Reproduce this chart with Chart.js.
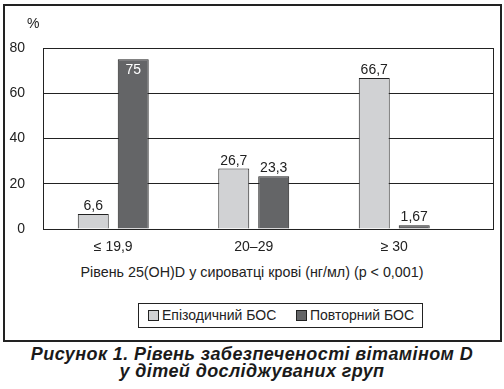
<!DOCTYPE html>
<html>
<head>
<meta charset="utf-8">
<script src="https://cdn.jsdelivr.net/npm/chart.js@4/dist/chart.umd.min.js"></script>
<style>
  html, body { margin: 0; padding: 0; background: #fff; }
  body { width: 504px; height: 389px; position: relative; overflow: hidden;
         font-family: "Liberation Sans", Arial, sans-serif; color: #222; }
  #frame { position: absolute; left: 3px; top: 4px; width: 495px; height: 334px;
           border: 2px solid #222; }
  #cv { position: absolute; left: 0; top: 0; }
  #pct { position: absolute; left: 27px; top: 15px; font-size: 14px; }
  #xtitle { position: absolute; left: 0; width: 504px; top: 264px; text-align: center; font-size: 14.3px; }
  #legend { position: absolute; left: 138px; top: 303px; width: 283px; height: 23px;
            border: 1.5px solid #222; font-size: 14px; display: flex; align-items: center; }
  .li { display: flex; align-items: center; position: absolute; top: 3px; }
  .sw { width: 9px; height: 9px; border: 1px solid #222; margin-right: 3px; }
  #caption { position: absolute; left: 0; width: 504px; top: 346px; text-align: center;
             font-size: 18px; font-weight: bold; font-style: italic; line-height: 17px; color: #1a1a1a;
             letter-spacing: 0.4px; }
</style>
</head>
<body>
<div id="frame"></div>
<canvas id="cv" width="504" height="259"></canvas>
<div id="pct">%</div>
<div id="xtitle">Рівень 25(OH)D у сироватці крові (нг/мл) (р &lt; 0,001)</div>
<div id="legend"></div>
<div id="caption">Рисунок 1. Рівень забезпеченості вітаміном D<br>у дітей досліджуваних груп</div>
<script>
const categories = ["≤ 19,9", "20–29", "≥ 30"];
const seriesNames = ["Епізодичний БОС", "Повторний БОС"];
const episodic = [6.6, 26.7, 66.7];
const repeated = [75, 23.3, 1.67];
const valueLabels = [["6,6", "26,7", "66,7"], ["75", "23,3", "1,67"]];
const yTicks = [0, 20, 40, 60, 80];
const colors = ["#d1d2d4", "#646567"];

const FONT = "Liberation Sans, Arial, sans-serif";

const labelPlugin = {
  id: "valueLabels",
  afterDatasetsDraw(chart) {
    const ctx = chart.ctx;
    ctx.save();
    ctx.font = "14px " + FONT;
    ctx.textAlign = "center";
    ctx.textBaseline = "alphabetic";
    chart.data.datasets.forEach((ds, di) => {
      chart.getDatasetMeta(di).data.forEach((bar, i) => {
        const v = ds.data[i].y;
        const txt = valueLabels[di][i];
        if (v > 70) {
          ctx.fillStyle = "#ffffff";
          ctx.fillText(txt, bar.x, bar.y + 15);
        } else {
          ctx.fillStyle = "#222";
          ctx.fillText(txt, bar.x, bar.y - 4);
        }
      });
    });
    ctx.restore();
  }
};

const framePlugin = {
  id: "plotFrame",
  afterDraw(chart) {
    const a = chart.chartArea, ctx = chart.ctx;
    ctx.save();
    ctx.strokeStyle = "#222";
    ctx.lineWidth = 1;
    ctx.beginPath();
    ctx.moveTo(Math.round(a.right) + 0.5, a.top);
    ctx.lineTo(Math.round(a.right) + 0.5, a.bottom);
    ctx.stroke();
    ctx.restore();
  }
};

const chart = new Chart(document.getElementById("cv"), {
  type: "bar",
  data: {
    datasets: [
      { label: seriesNames[0], data: episodic.map((v, i) => ({ x: i, y: v })),
        backgroundColor: colors[0], borderColor: "#222", borderWidth: 1,
        categoryPercentage: 0.569, barPercentage: 0.775 },
      { label: seriesNames[1], data: repeated.map((v, i) => ({ x: i, y: v })),
        backgroundColor: colors[1], borderColor: "#222", borderWidth: 1,
        categoryPercentage: 0.569, barPercentage: 0.775 }
    ]
  },
  options: {
    responsive: false,
    animation: false,
    layout: { padding: { left: 0, right: 11, top: 48, bottom: 0 } },
    plugins: { legend: { display: false }, tooltip: { enabled: false } },
    scales: {
      x: {
        type: "linear",
        offset: false,
        min: -0.5, max: 2.703,
        afterBuildTicks(s) { s.ticks = categories.map((c, i) => ({ value: i })); },
        afterFit(s) { s.height = 30; },
        ticks: { callback: v => categories[v], color: "#222", font: { family: FONT, size: 14 }, padding: 10, maxRotation: 0 },
        grid: { display: false, drawTicks: false, offset: false },
        border: { display: true, color: "#222", width: 1 }
      },
      y: {
        min: 0, max: 80,
        afterBuildTicks(s) { s.ticks = yTicks.map(v => ({ value: v })); },
        afterFit(s) { s.width = 43; },
        ticks: { color: "#222", font: { family: FONT, size: 14 }, padding: 18 },
        grid: { color: "#222", lineWidth: 1, drawTicks: false },
        border: { display: true, color: "#222", width: 1 }
      }
    }
  },
  plugins: [labelPlugin, framePlugin]
});

// HTML legend built from the chart's datasets
const lg = document.getElementById("legend");
const lefts = [9, 157];
chart.data.datasets.forEach((ds, i) => {
  const item = document.createElement("div");
  item.className = "li";
  item.style.left = lefts[i] + "px";
  const sw = document.createElement("div");
  sw.className = "sw";
  sw.style.background = ds.backgroundColor;
  const t = document.createElement("span");
  t.textContent = ds.label;
  item.appendChild(sw); item.appendChild(t);
  lg.appendChild(item);
});
</script>
</body>
</html>
